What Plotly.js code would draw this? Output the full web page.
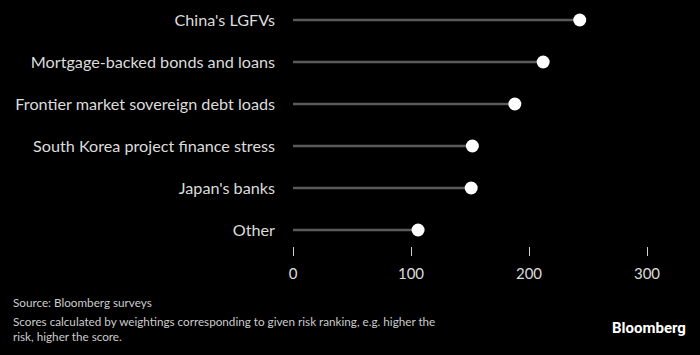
<!DOCTYPE html>
<html><head><meta charset="utf-8">
<script src="https://cdn.plot.ly/plotly-3.0.1.min.js"></script>
<style>html,body{margin:0;padding:0;background:#000;}#chart{width:700px;height:355px;}</style>
</head><body><div id="chart"></div>
<script>
const categories = ["China's LGFVs","Mortgage-backed bonds and loans","Frontier market sovereign debt loads","South Korea project finance stress","Japan's banks","Other"];
const scores = [243, 212, 188, 152, 151, 106];
const xTicks = [0, 100, 200, 300];

const lx = [], ly = [];
categories.forEach((c, i) => { lx.push(0, scores[i], null); ly.push(c, c, null); });

const traces = [
  {type:'scatter', mode:'lines', x:lx, y:ly, line:{color:'#5a5a5a', width:2.5}, hoverinfo:'skip', cliponaxis:false},
  {type:'scatter', mode:'markers', x:scores, y:categories, marker:{color:'#ffffff', size:13}, cliponaxis:false}
];

const footFont = {family:'Lato, sans-serif', size:11.7, color:'#cccccc'};
const layout = {
  width:700, height:355,
  paper_bgcolor:'#000', plot_bgcolor:'#000',
  margin:{l:293, r:53, t:0, b:109},
  showlegend:false,
  font:{family:'Lato, sans-serif', color:'#dcdcdc'},
  xaxis:{range:[0,300], tickvals:xTicks, ticks:'outside', ticklen:9, tickcolor:'#cfcfcf', tickwidth:1, ticklabelstandoff:5,
         showgrid:false, zeroline:false, showline:false, tickfont:{size:15, color:'#dcdcdc'}, fixedrange:true},
  yaxis:{type:'category', categoryorder:'array', categoryarray:categories, range:[5.381,-0.476],
         showgrid:false, zeroline:false, showline:false, ticks:'', ticklabelstandoff:17,
         tickfont:{size:16.2, color:'#dcdcdc'}, fixedrange:true},
  annotations:[
    {xref:'paper', yref:'paper', x:(11-293)/354, y:0, yshift:-56, xanchor:'left', yanchor:'middle', align:'left',
     showarrow:false, text:'Source: Bloomberg surveys', font:footFont},
    {xref:'paper', yref:'paper', x:(11-293)/354, y:0, xanchor:'left', yanchor:'top', align:'left', yshift:-66,
     showarrow:false, text:'Scores calculated by weightings corresponding to given risk ranking, e.g. higher the<br>risk, higher the score.',
     font:footFont},
    {xref:'paper', yref:'paper', x:(688-293)/354, y:0, xanchor:'right', yanchor:'middle', yshift:-82,
     showarrow:false, text:'<b>Bloomberg</b>', font:{family:'Roboto, sans-serif', size:15, color:'#ffffff'}}
  ]
};
Plotly.newPlot('chart', traces, layout, {displayModeBar:false, staticPlot:true});
</script></body></html>
